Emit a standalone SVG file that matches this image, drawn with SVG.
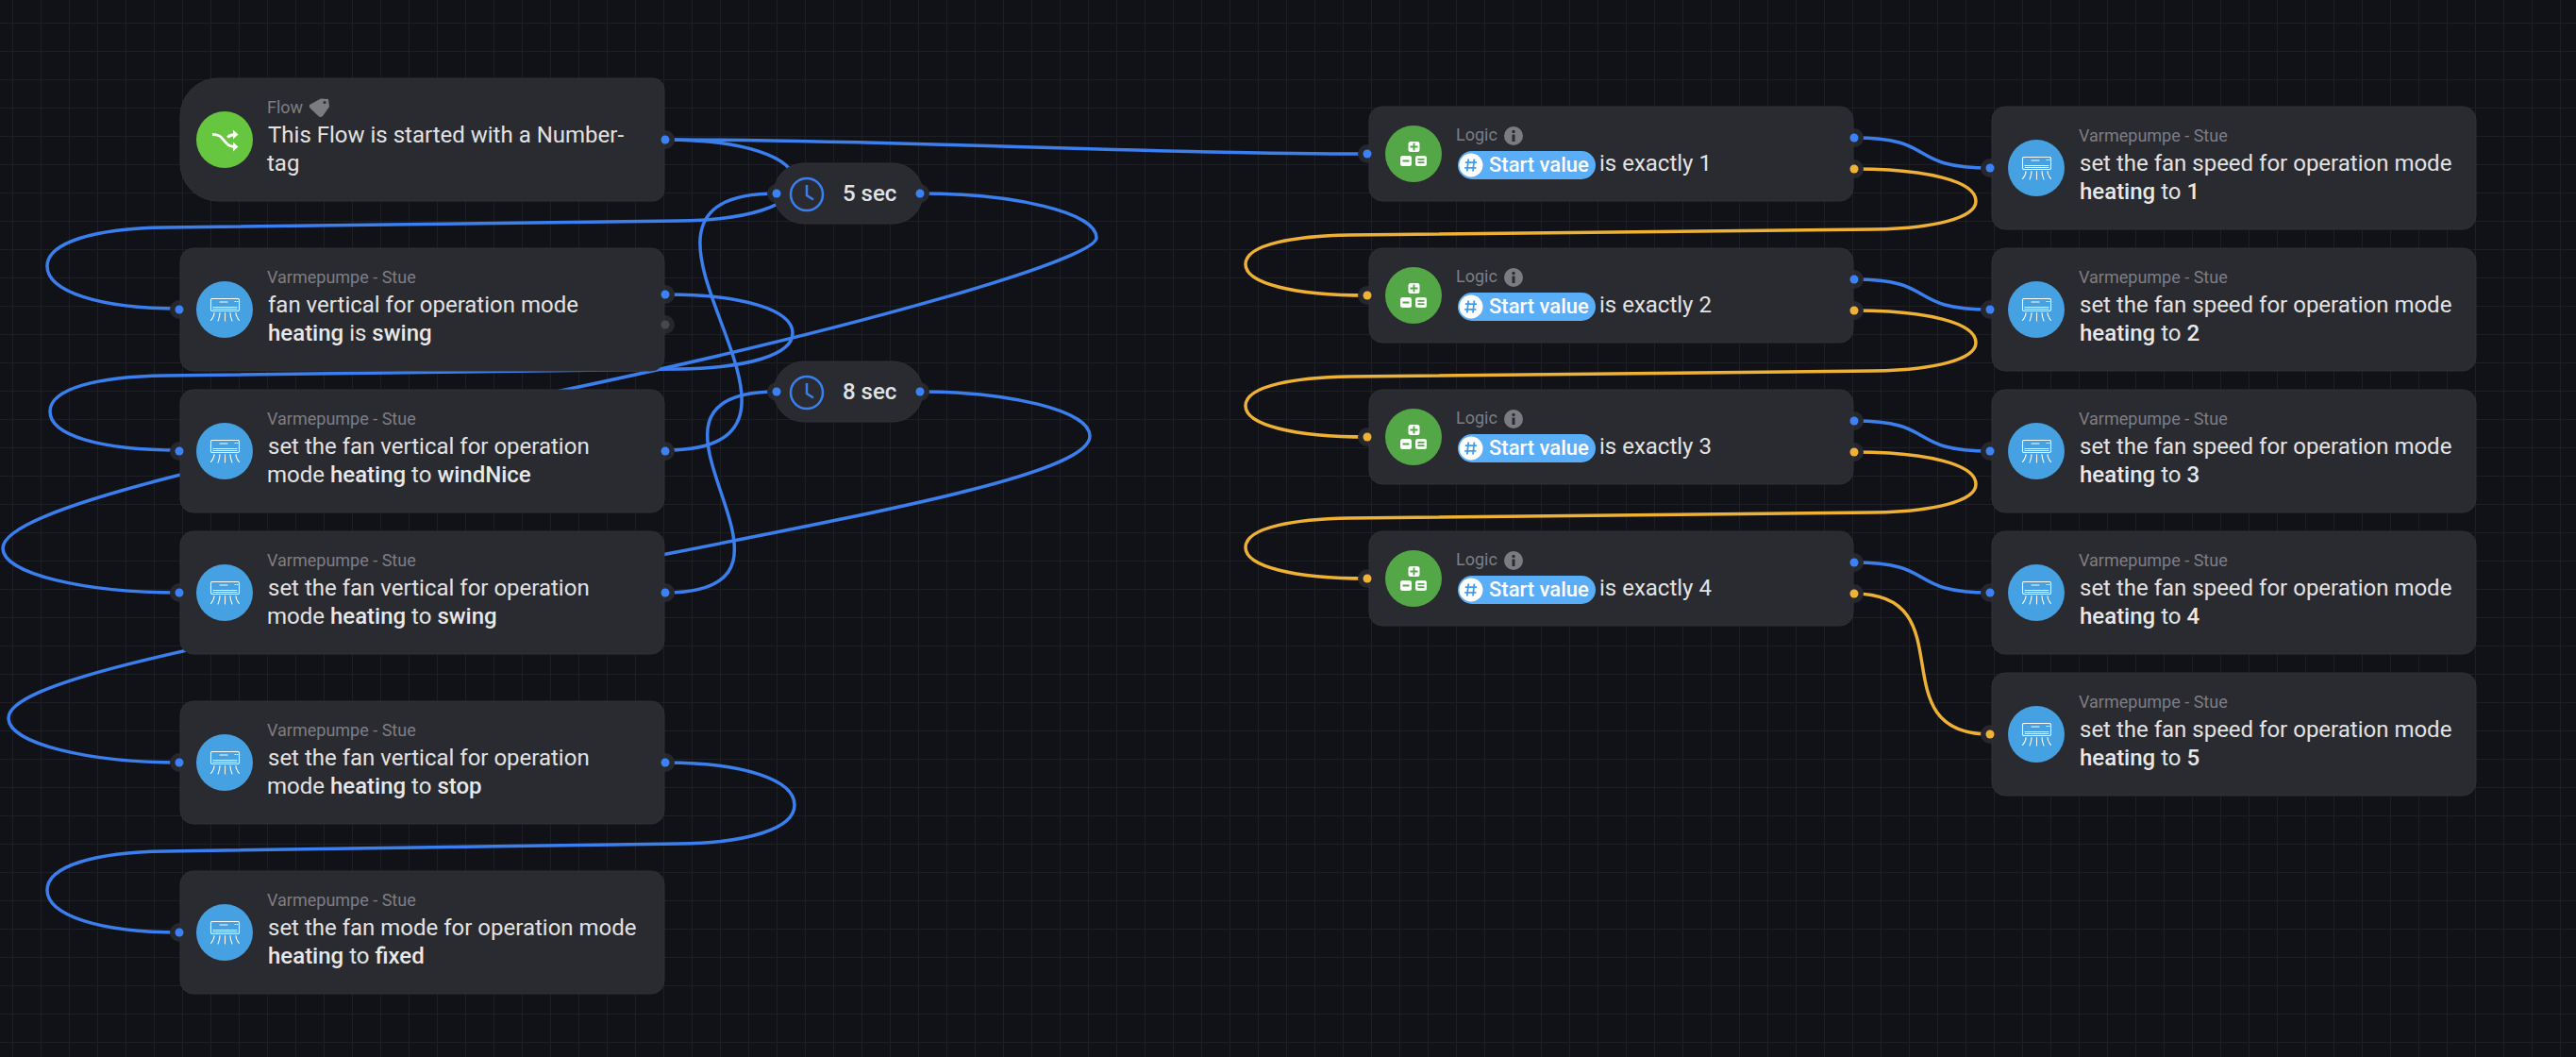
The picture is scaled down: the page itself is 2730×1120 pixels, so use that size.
<svg xmlns="http://www.w3.org/2000/svg" width="2730" height="1120" viewBox="0 0 2730 1120">
<defs>
<pattern id="grid" width="30" height="30" patternUnits="userSpaceOnUse" x="13" y="24">
<path d="M0.5 0V30M0 0.5H30" fill="none" stroke="#1d1f25" stroke-width="1"/>
</pattern>
<symbol id="ac" viewBox="0 0 60 60" width="60" height="60" overflow="visible">
<circle cx="30" cy="30" r="30" fill="#46a1e2"/>
<g fill="none" stroke="#fff" stroke-width="1.100" stroke-linecap="round">
<rect x="15.500" y="18.500" width="30" height="13" rx="1.500"/>
<path d="M18 27.500H43M18 29.500H43M25 22H33M41 21.500H42M43.500 21.500H44"/>
<path d="M19 33.500C19 37 17.500 39 15.500 41.500M25 33.500C25 37 24 39 23 42M30.500 33.500V42M36 33.500C36 37 37 39 38 42M42 33.500C42 37 43.500 39 45.500 41.500"/>
</g>
</symbol>
<symbol id="logic" viewBox="0 0 60 60" width="60" height="60" overflow="visible">
<circle cx="30" cy="30" r="30" fill="#54a746"/>
<rect x="24.500" y="17" width="12" height="11" rx="2.500" fill="#fff"/>
<rect x="16" y="32" width="12" height="11" rx="2.500" fill="#fff"/>
<rect x="32" y="32" width="12" height="11" rx="2.500" fill="#fff"/>
<path d="M26.500 22.500H34.500M30.500 18.500V26.500M18.500 37.500H25.500M34.500 35.800H41.500M34.500 39.200H41.500" stroke="#54a746" stroke-width="1.800" fill="none"/>
</symbol>
<symbol id="info" viewBox="0 0 20 20" width="20" height="20" overflow="visible">
<circle cx="10" cy="10" r="10" fill="#7b7c81"/>
<circle cx="10" cy="5.500" r="1.700" fill="#2a2b30"/>
<rect x="8.500" y="8.500" width="3" height="7.500" fill="#2a2b30"/>
</symbol>
<symbol id="pill" viewBox="0 0 146 30" width="146" height="30" overflow="visible">
<rect width="146" height="30" rx="15" fill="#59aef7"/>
<circle cx="14" cy="15" r="12.500" fill="#fff"/>
<path d="M11.200 8.500L9.800 21.500M17.400 8.500L16 21.500M7.800 12.200H20M7.200 17.800H19.400" stroke="#3f9bf0" stroke-width="1.800" fill="none"/>
</symbol>
</defs>
<style>
text{font-family:Roboto,"Liberation Sans",sans-serif}
.n{fill:#2a2b30;stroke:#303136;stroke-width:1}
.h{fill:#26272c}
.t{font-size:18px;fill:#7d7e83}
.b{font-size:24px;fill:#e2e2e3}
.s{font-weight:500;fill:#e8e8e8}
.pv{font-size:22px;font-weight:500;fill:#fff}
.tm{font-size:24px;font-weight:500;fill:#e2e2e3}
.c{fill:none;stroke-width:3.500;stroke-linecap:round}
.bl{stroke:#3b7fee}
.or{stroke:#eeb135}
.db{fill:#3b82f6}
.do{fill:#f0b236}
</style>
<rect width="2730" height="1120" fill="#101218"/>
<rect width="2730" height="1120" fill="url(#grid)"/>

<g id="connectors">
<path class="c bl" d="M705 148C955 148 1199 163 1449 163"/>
<path class="c bl" d="M705 148C787 148 842 166 842 193C842 218 793 233 720 234L175 241C100 242 50 257 50 282C50 309 106 327 190 327"/>
<path class="c bl" d="M975 205C1075 205 1162 225 1162 252C1162 275 900 350 582.500 416.500C265 483 3 538 3 581C3 608 90 628 190 628"/>
<path class="c bl" d="M975 415C1070 415 1155 435 1155 462C1155 505 900 548 582.500 611.500C265 675 9 718 9 761C9 788 95 808 190 808"/>
<path class="c bl" d="M705 312C786 312 840 328 840 353C840 376 792 390 720 391L175 398C102 399 53 412 53 436C53 461 105 477 190 477"/>
<path class="c bl" d="M705 477C925 477 603 205 823 205"/>
<path class="c bl" d="M705 628C895 628 633 415 823 415"/>
<path class="c bl" d="M705 808C787 808 842 826 842 853C842 878 793 893 720 894L175 902C100 903 50 918 50 943C50 970 106 988 190 988"/>
<path class="c or" d="M1965 179C2042 179 2094 192 2094 213C2094 231 2050 242 1985 243L1430 249C1375 250 1320 258 1320 280C1320 300 1370 313 1449 313"/>
<path class="c or" d="M1965 329C2042 329 2094 342 2094 363C2094 381 2050 392 1985 393L1430 399C1375 400 1320 408 1320 430C1320 450 1370 463 1449 463"/>
<path class="c or" d="M1965 479C2042 479 2094 492 2094 513C2094 531 2050 542 1985 543L1430 549C1375 550 1320 558 1320 580C1320 600 1370 613 1449 613"/>
<path class="c or" d="M1965 629C2085 629 1989 778 2109 778"/>
<path class="c bl" d="M1965 146C2055 146 2019 178 2109 178"/>
<path class="c bl" d="M1965 296C2055 296 2019 328 2109 328"/>
<path class="c bl" d="M1965 446C2055 446 2019 478 2109 478"/>
<path class="c bl" d="M1965 596C2055 596 2019 628 2109 628"/>
</g>

<g id="node-flow">
<circle class="h" cx="705" cy="148" r="10"/>
<path class="n" d="M231 83H692a12 12 0 0 1 12 12V201a12 12 0 0 1 -12 12H231a40 40 0 0 1 -40 -40V123a40 40 0 0 1 40 -40Z"/>
<circle cx="238" cy="148" r="30" fill="#67c63f"/>
<path d="M225 142.500C233 142.500 234 145 238 149.500C242 154 243 155.500 250 155.500M241 145.500C244 143 246 142.500 250 142.500" fill="none" stroke="#fff" stroke-width="2.800"/>
<path d="M247 137.500L252.500 142.500L247 147.500ZM247 150.500L252.500 155.500L247 160.500Z" fill="#fff"/>
<text class="t" x="283" y="120">Flow</text>
<path d="M328 111L340 104.500L348 105L349 113L342 123Q340 124.500 338 123.500L329 115Q327 113 328 111Z" fill="#7b7c81"/>
<circle cx="344" cy="108.500" r="1.500" fill="#2a2b30"/>
<text class="b" x="284" y="151">This Flow is started with a Number-</text>
<text class="b" x="283" y="181">tag</text>
<circle class="db" cx="705" cy="148" r="4.500"/>
</g>

<g id="node-t5">
<circle class="h" cx="823" cy="205" r="10"/>
<circle class="h" cx="975" cy="205" r="10"/>
<rect class="n" x="820" y="173" width="158" height="64" rx="32"/>
<circle cx="855" cy="206" r="17" fill="none" stroke="#3b7fee" stroke-width="2.500"/>
<path d="M855 196V207L862 211.500" fill="none" stroke="#3b7fee" stroke-width="2.500"/>
<text class="tm" x="893" y="213">5 sec</text>
<circle class="db" cx="823" cy="205" r="4.500"/>
<circle class="db" cx="975" cy="205" r="4.500"/>
</g>

<g id="node-t8">
<circle class="h" cx="823" cy="415" r="10"/>
<circle class="h" cx="975" cy="415" r="10"/>
<rect class="n" x="820" y="383" width="158" height="64" rx="32"/>
<circle cx="855" cy="416" r="17" fill="none" stroke="#3b7fee" stroke-width="2.500"/>
<path d="M855 406V417L862 421.500" fill="none" stroke="#3b7fee" stroke-width="2.500"/>
<text class="tm" x="893" y="423">8 sec</text>
<circle class="db" cx="823" cy="415" r="4.500"/>
<circle class="db" cx="975" cy="415" r="4.500"/>
</g>

<g id="node-a1">
<circle class="h" cx="190" cy="328" r="10"/><circle class="h" cx="705" cy="312" r="10"/><circle class="h" cx="705" cy="344" r="10"/>
<rect class="n" x="191" y="263" width="513" height="130" rx="14"/>
<use href="#ac" x="208" y="298"/>
<text class="t" x="283" y="300">Varmepumpe - Stue</text>
<text class="b" x="284" y="331">fan vertical for operation mode</text>
<text class="b" x="284" y="361"><tspan class="s">heating</tspan> is <tspan class="s">swing</tspan></text>
<circle class="db" cx="190" cy="328" r="4.500"/><circle class="db" cx="705" cy="312" r="4.500"/>
<circle cx="705" cy="344" r="4.500" fill="#47484d"/>
</g>

<g id="node-a2">
<circle class="h" cx="190" cy="478" r="10"/><circle class="h" cx="705" cy="478" r="10"/>
<rect class="n" x="191" y="413" width="513" height="130" rx="14"/>
<use href="#ac" x="208" y="448"/>
<text class="t" x="283" y="450">Varmepumpe - Stue</text>
<text class="b" x="284" y="481">set the fan vertical for operation</text>
<text class="b" x="283" y="511">mode <tspan class="s">heating</tspan> to <tspan class="s">windNice</tspan></text>
<circle class="db" cx="190" cy="478" r="4.500"/><circle class="db" cx="705" cy="478" r="4.500"/>
</g>

<g id="node-a3">
<circle class="h" cx="190" cy="628" r="10"/><circle class="h" cx="705" cy="628" r="10"/>
<rect class="n" x="191" y="563" width="513" height="130" rx="14"/>
<use href="#ac" x="208" y="598"/>
<text class="t" x="283" y="600">Varmepumpe - Stue</text>
<text class="b" x="284" y="631">set the fan vertical for operation</text>
<text class="b" x="283" y="661">mode <tspan class="s">heating</tspan> to <tspan class="s">swing</tspan></text>
<circle class="db" cx="190" cy="628" r="4.500"/><circle class="db" cx="705" cy="628" r="4.500"/>
</g>

<g id="node-a4">
<circle class="h" cx="190" cy="808" r="10"/><circle class="h" cx="705" cy="808" r="10"/>
<rect class="n" x="191" y="743" width="513" height="130" rx="14"/>
<use href="#ac" x="208" y="778"/>
<text class="t" x="283" y="780">Varmepumpe - Stue</text>
<text class="b" x="284" y="811">set the fan vertical for operation</text>
<text class="b" x="283" y="841">mode <tspan class="s">heating</tspan> to <tspan class="s">stop</tspan></text>
<circle class="db" cx="190" cy="808" r="4.500"/><circle class="db" cx="705" cy="808" r="4.500"/>
</g>

<g id="node-a5">
<circle class="h" cx="190" cy="988" r="10"/>
<rect class="n" x="191" y="923" width="513" height="130" rx="14"/>
<use href="#ac" x="208" y="958"/>
<text class="t" x="283" y="960">Varmepumpe - Stue</text>
<text class="b" x="284" y="991">set the fan mode for operation mode</text>
<text class="b" x="284" y="1021"><tspan class="s">heating</tspan> to <tspan class="s">fixed</tspan></text>
<circle class="db" cx="190" cy="988" r="4.500"/>
</g>

<g id="node-l1">
<circle class="h" cx="1449" cy="163" r="10"/><circle class="h" cx="1965" cy="146" r="10"/><circle class="h" cx="1965" cy="179" r="10"/>
<rect class="n" x="1451" y="113" width="513" height="100" rx="14"/>
<use href="#logic" x="1468" y="133"/>
<text class="t" x="1543" y="149">Logic</text>
<use href="#info" x="1594" y="134"/>
<use href="#pill" x="1545" y="160"/>
<text class="pv" x="1578" y="182">Start value</text>
<text class="b" x="1695" y="181">is exactly 1</text>
<circle class="db" cx="1449" cy="163" r="4.500"/><circle class="db" cx="1965" cy="146" r="4.500"/><circle class="do" cx="1965" cy="179" r="4.500"/>
</g>

<g id="node-l2">
<circle class="h" cx="1449" cy="313" r="10"/><circle class="h" cx="1965" cy="296" r="10"/><circle class="h" cx="1965" cy="329" r="10"/>
<rect class="n" x="1451" y="263" width="513" height="100" rx="14"/>
<use href="#logic" x="1468" y="283"/>
<text class="t" x="1543" y="299">Logic</text>
<use href="#info" x="1594" y="284"/>
<use href="#pill" x="1545" y="310"/>
<text class="pv" x="1578" y="332">Start value</text>
<text class="b" x="1695" y="331">is exactly 2</text>
<circle class="do" cx="1449" cy="313" r="4.500"/><circle class="db" cx="1965" cy="296" r="4.500"/><circle class="do" cx="1965" cy="329" r="4.500"/>
</g>

<g id="node-l3">
<circle class="h" cx="1449" cy="463" r="10"/><circle class="h" cx="1965" cy="446" r="10"/><circle class="h" cx="1965" cy="479" r="10"/>
<rect class="n" x="1451" y="413" width="513" height="100" rx="14"/>
<use href="#logic" x="1468" y="433"/>
<text class="t" x="1543" y="449">Logic</text>
<use href="#info" x="1594" y="434"/>
<use href="#pill" x="1545" y="460"/>
<text class="pv" x="1578" y="482">Start value</text>
<text class="b" x="1695" y="481">is exactly 3</text>
<circle class="do" cx="1449" cy="463" r="4.500"/><circle class="db" cx="1965" cy="446" r="4.500"/><circle class="do" cx="1965" cy="479" r="4.500"/>
</g>

<g id="node-l4">
<circle class="h" cx="1449" cy="613" r="10"/><circle class="h" cx="1965" cy="596" r="10"/><circle class="h" cx="1965" cy="629" r="10"/>
<rect class="n" x="1451" y="563" width="513" height="100" rx="14"/>
<use href="#logic" x="1468" y="583"/>
<text class="t" x="1543" y="599">Logic</text>
<use href="#info" x="1594" y="584"/>
<use href="#pill" x="1545" y="610"/>
<text class="pv" x="1578" y="632">Start value</text>
<text class="b" x="1695" y="631">is exactly 4</text>
<circle class="do" cx="1449" cy="613" r="4.500"/><circle class="db" cx="1965" cy="596" r="4.500"/><circle class="do" cx="1965" cy="629" r="4.500"/>
</g>

<g id="node-r1">
<circle class="h" cx="2109" cy="178" r="10"/>
<rect class="n" x="2111" y="113" width="513" height="130" rx="14"/>
<use href="#ac" x="2128" y="148"/>
<text class="t" x="2203" y="150">Varmepumpe - Stue</text>
<text class="b" x="2204" y="181">set the fan speed for operation mode</text>
<text class="b" x="2204" y="211"><tspan class="s">heating</tspan> to <tspan class="s">1</tspan></text>
<circle class="db" cx="2109" cy="178" r="4.500"/>
</g>
<g id="node-r2">
<circle class="h" cx="2109" cy="328" r="10"/>
<rect class="n" x="2111" y="263" width="513" height="130" rx="14"/>
<use href="#ac" x="2128" y="298"/>
<text class="t" x="2203" y="300">Varmepumpe - Stue</text>
<text class="b" x="2204" y="331">set the fan speed for operation mode</text>
<text class="b" x="2204" y="361"><tspan class="s">heating</tspan> to <tspan class="s">2</tspan></text>
<circle class="db" cx="2109" cy="328" r="4.500"/>
</g>
<g id="node-r3">
<circle class="h" cx="2109" cy="478" r="10"/>
<rect class="n" x="2111" y="413" width="513" height="130" rx="14"/>
<use href="#ac" x="2128" y="448"/>
<text class="t" x="2203" y="450">Varmepumpe - Stue</text>
<text class="b" x="2204" y="481">set the fan speed for operation mode</text>
<text class="b" x="2204" y="511"><tspan class="s">heating</tspan> to <tspan class="s">3</tspan></text>
<circle class="db" cx="2109" cy="478" r="4.500"/>
</g>
<g id="node-r4">
<circle class="h" cx="2109" cy="628" r="10"/>
<rect class="n" x="2111" y="563" width="513" height="130" rx="14"/>
<use href="#ac" x="2128" y="598"/>
<text class="t" x="2203" y="600">Varmepumpe - Stue</text>
<text class="b" x="2204" y="631">set the fan speed for operation mode</text>
<text class="b" x="2204" y="661"><tspan class="s">heating</tspan> to <tspan class="s">4</tspan></text>
<circle class="db" cx="2109" cy="628" r="4.500"/>
</g>
<g id="node-r5">
<circle class="h" cx="2109" cy="778" r="10"/>
<rect class="n" x="2111" y="713" width="513" height="130" rx="14"/>
<use href="#ac" x="2128" y="748"/>
<text class="t" x="2203" y="750">Varmepumpe - Stue</text>
<text class="b" x="2204" y="781">set the fan speed for operation mode</text>
<text class="b" x="2204" y="811"><tspan class="s">heating</tspan> to <tspan class="s">5</tspan></text>
<circle class="do" cx="2109" cy="778" r="4.500"/>
</g>
</svg>
